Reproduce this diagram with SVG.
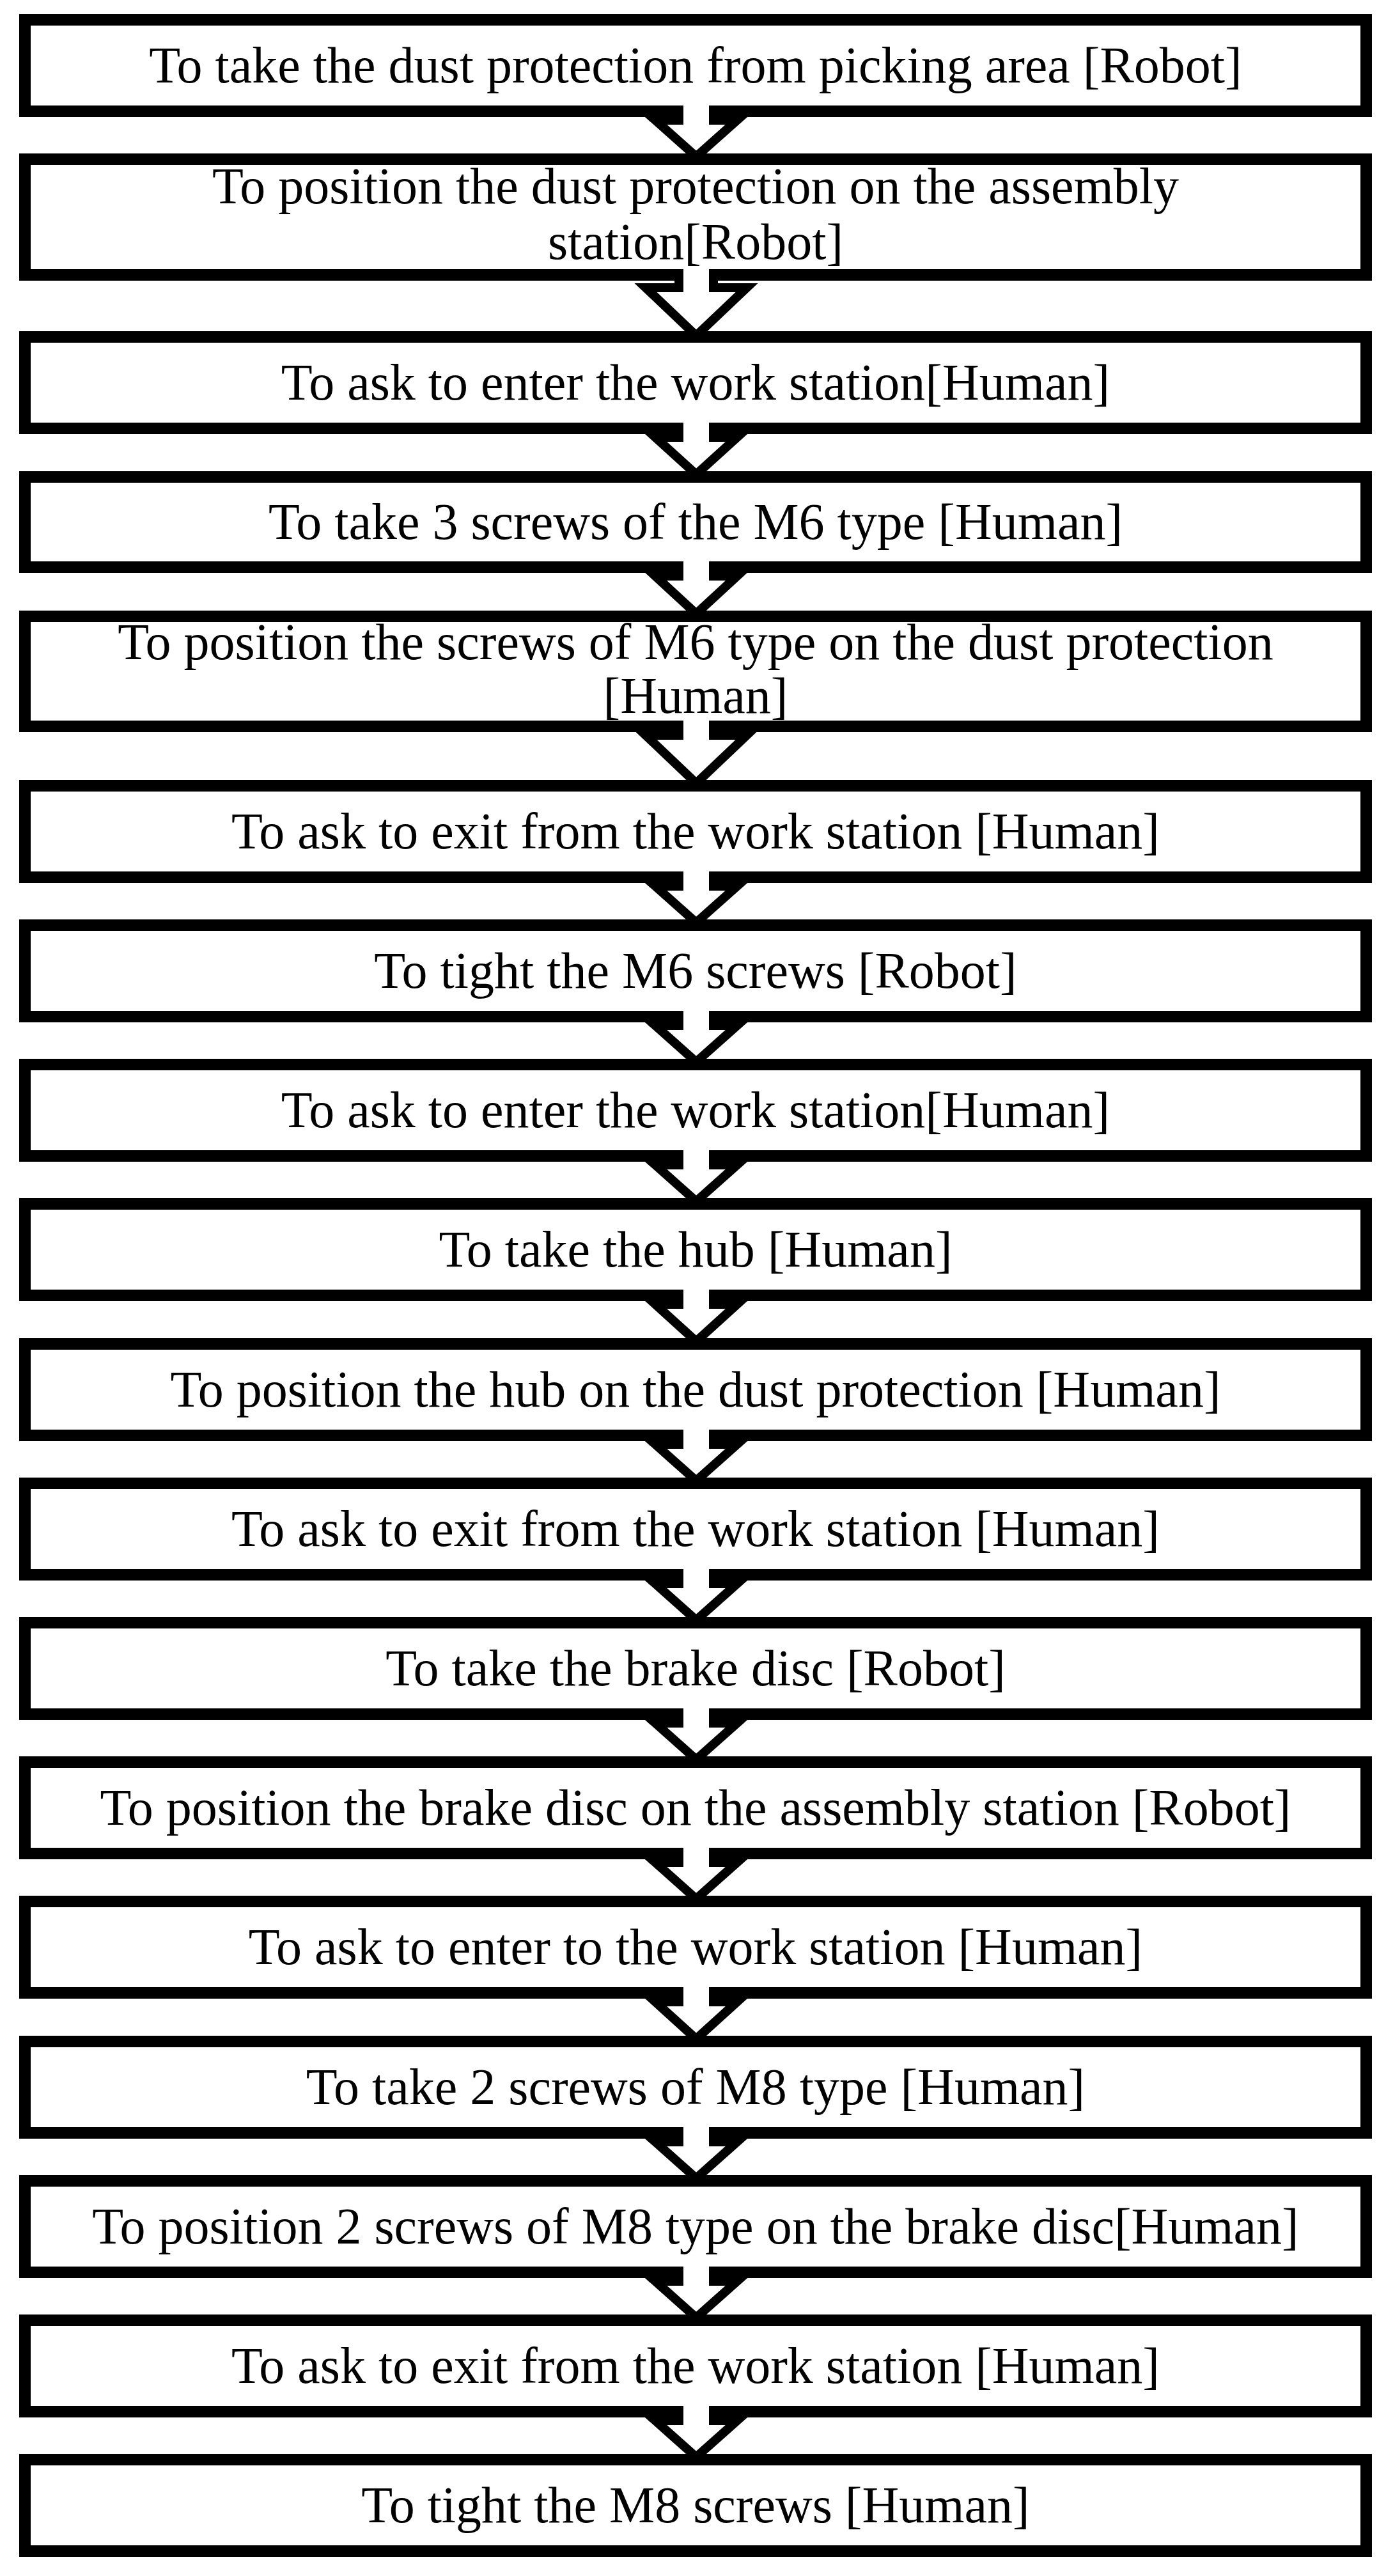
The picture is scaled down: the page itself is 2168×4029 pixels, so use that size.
<svg xmlns="http://www.w3.org/2000/svg" width="2168" height="4029" viewBox="0 0 2168 4029">
<style>
.b{fill:#fff;stroke:#000;stroke-width:18}
.t{font-family:"Liberation Serif","Times New Roman",serif;font-size:80px;text-anchor:middle;fill:#000}
.a{fill:#fff;stroke:#000;stroke-width:14;stroke-linejoin:miter;stroke-miterlimit:10}
</style>
<rect width="2168" height="4029" fill="#fff"/>
<g id="n1"><rect class="b" x="39" y="31" width="2098" height="143"/><text class="t" x="1088" y="129">To take the dust protection from picking area [Robot]</text></g>
<g id="n2"><rect class="b" x="39" y="249" width="2098" height="181"/><text class="t" x="1088" y="318">To position the dust protection on the assembly</text><text class="t" x="1088" y="405">station[Robot]</text></g>
<g id="n3"><rect class="b" x="39" y="527" width="2098" height="143"/><text class="t" x="1088" y="625">To ask to enter the work station[Human]</text></g>
<g id="n4"><rect class="b" x="39" y="746" width="2098" height="141"/><text class="t" x="1088" y="843">To take 3 screws of the M6 type [Human]</text></g>
<g id="n5"><rect class="b" x="39" y="964" width="2098" height="172"/><text class="t" x="1088" y="1031">To position the screws of M6 type on the dust protection</text><text class="t" x="1088" y="1115">[Human]</text></g>
<g id="n6"><rect class="b" x="39" y="1229" width="2098" height="143"/><text class="t" x="1088" y="1327">To ask to exit from the work station [Human]</text></g>
<g id="n7"><rect class="b" x="39" y="1447" width="2098" height="143"/><text class="t" x="1088" y="1545">To tight the M6 screws [Robot]</text></g>
<g id="n8"><rect class="b" x="39" y="1665" width="2098" height="143"/><text class="t" x="1088" y="1763">To ask to enter the work station[Human]</text></g>
<g id="n9"><rect class="b" x="39" y="1883" width="2098" height="143"/><text class="t" x="1088" y="1981">To take the hub [Human]</text></g>
<g id="n10"><rect class="b" x="39" y="2102" width="2098" height="143"/><text class="t" x="1088" y="2200">To position the hub on the dust protection [Human]</text></g>
<g id="n11"><rect class="b" x="39" y="2320" width="2098" height="143"/><text class="t" x="1088" y="2418">To ask to exit from the work station [Human]</text></g>
<g id="n12"><rect class="b" x="39" y="2538" width="2098" height="143"/><text class="t" x="1088" y="2636">To take the brake disc [Robot]</text></g>
<g id="n13"><rect class="b" x="39" y="2756" width="2098" height="143"/><text class="t" x="1088" y="2854">To position the brake disc on the assembly station [Robot]</text></g>
<g id="n14"><rect class="b" x="39" y="2974" width="2098" height="143"/><text class="t" x="1088" y="3072">To ask to enter to the work station [Human]</text></g>
<g id="n15"><rect class="b" x="39" y="3193" width="2098" height="143"/><text class="t" x="1088" y="3291">To take 2 screws of M8 type [Human]</text></g>
<g id="n16"><rect class="b" x="39" y="3411" width="2098" height="143"/><text class="t" x="1088" y="3509">To position 2 screws of M8 type  on the brake disc[Human]</text></g>
<g id="n17"><rect class="b" x="39" y="3629" width="2098" height="143"/><text class="t" x="1088" y="3727">To ask to exit from the work station [Human]</text></g>
<g id="n18"><rect class="b" x="39" y="3847" width="2098" height="143"/><text class="t" x="1088" y="3945">To tight the M8 screws [Human]</text></g>
<g id="connectors">
<path class="a" d="M1062 165 V188 H1025 L1089 245 L1153 188 H1116 V165"/>
<path class="a" d="M1062 421 V450 H1010 L1089 525 L1168 450 H1116 V421"/>
<path class="a" d="M1062 661 V684 H1025 L1089 742 L1153 684 H1116 V661"/>
<path class="a" d="M1062 878 V901 H1025 L1089 960 L1153 901 H1116 V878"/>
<path class="a" d="M1062 1127 V1150 H1010 L1089 1225 L1168 1150 H1116 V1127"/>
<path class="a" d="M1062 1363 V1386 H1025 L1089 1443 L1153 1386 H1116 V1363"/>
<path class="a" d="M1062 1581 V1604 H1025 L1089 1661 L1153 1604 H1116 V1581"/>
<path class="a" d="M1062 1799 V1822 H1025 L1089 1879 L1153 1822 H1116 V1799"/>
<path class="a" d="M1062 2017 V2040 H1025 L1089 2098 L1153 2040 H1116 V2017"/>
<path class="a" d="M1062 2236 V2259 H1025 L1089 2316 L1153 2259 H1116 V2236"/>
<path class="a" d="M1062 2454 V2477 H1025 L1089 2534 L1153 2477 H1116 V2454"/>
<path class="a" d="M1062 2672 V2695 H1025 L1089 2752 L1153 2695 H1116 V2672"/>
<path class="a" d="M1062 2890 V2913 H1025 L1089 2970 L1153 2913 H1116 V2890"/>
<path class="a" d="M1062 3108 V3131 H1025 L1089 3189 L1153 3131 H1116 V3108"/>
<path class="a" d="M1062 3327 V3350 H1025 L1089 3407 L1153 3350 H1116 V3327"/>
<path class="a" d="M1062 3545 V3568 H1025 L1089 3625 L1153 3568 H1116 V3545"/>
<path class="a" d="M1062 3763 V3786 H1025 L1089 3843 L1153 3786 H1116 V3763"/>
</g>
</svg>
